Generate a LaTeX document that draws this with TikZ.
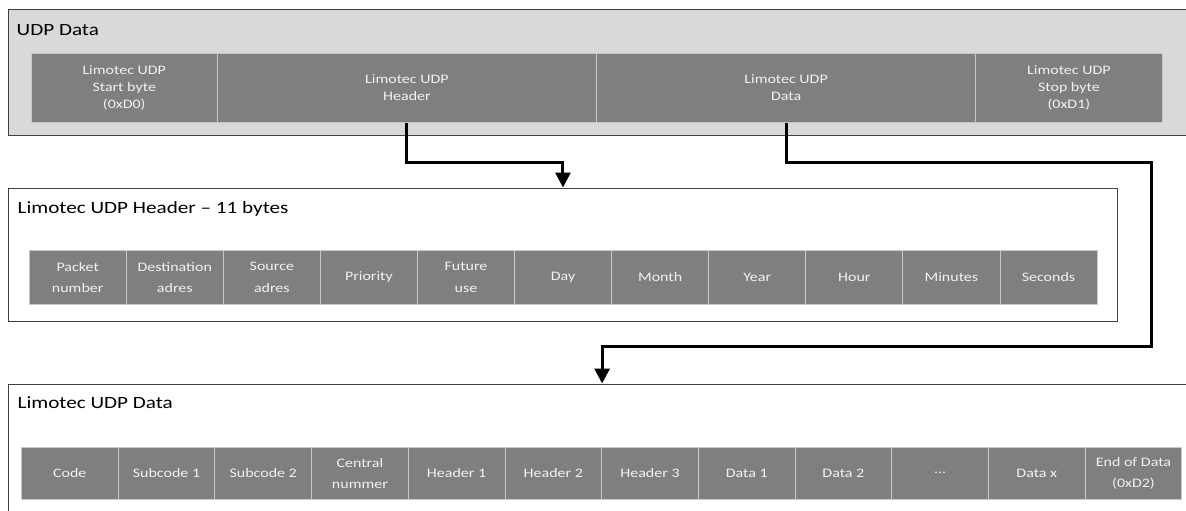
\documentclass[tikz,border=0pt]{standalone}
\usepackage{fontspec}
\setmainfont{Carlito}[FakeStretch=1.23]
\usetikzlibrary{arrows.meta}
\definecolor{cellgray}{HTML}{7F7F7F}
\definecolor{cellline}{HTML}{C8C8C8}
\definecolor{boxgray}{HTML}{D9D9D9}
\definecolor{boxline}{HTML}{404040}
\definecolor{celltext}{HTML}{F2F2F2}
\begin{document}
\begin{tikzpicture}[x=1pt,y=-1pt,
  container/.style={draw=boxline, line width=1.2pt, anchor=north west, inner sep=0pt},
  cell/.style={draw=cellline, line width=0.9pt, fill=cellgray, text=celltext, align=center,
    anchor=north west, inner sep=0pt, font=\fontsize{13}{21.5}\selectfont},
  topcell/.style={cell, font=\fontsize{13}{17}\selectfont},
  title/.style={anchor=base west, inner sep=0pt, font=\fontsize{17.2}{20}\selectfont},
  conn/.style={line width=3pt, line join=miter, -{Triangle[length=15pt,width=15pt]}}
]
\useasboundingbox (0,0) rectangle (1186,511);
\clip (0,0) rectangle (1186,511);

% ---- UDP Data ----
\node[container, fill=boxgray, minimum width=1190pt, minimum height=125.7pt] (tbox) at (7.5,9.3) {};
\node[title] (ttitle) at (16.5,35.5) {UDP Data};
\node[topcell, minimum width=186.4pt, minimum height=69pt] (tc1) at (30.6,53) {Limotec UDP\\Start byte\\(0xD0)};
\node[topcell, minimum width=379pt, minimum height=69pt] (tc2) at (217,53) {Limotec UDP\\Header};
\node[topcell, minimum width=379.3pt, minimum height=69pt] (tc3) at (596,53) {Limotec UDP\\Data};
\node[topcell, minimum width=186.3pt, minimum height=69pt] (tc4) at (975.3,53) {Limotec UDP\\Stop byte\\(0xD1)};

% ---- Header ----
\node[container, fill=white, minimum width=1108.7pt, minimum height=133.2pt] (hbox) at (8,187.5) {};
\node[title] (htitle) at (17.5,213) {Limotec UDP Header – 11 bytes};
\foreach \t [count=\i from 0] in {Packet\\number, Destination\\adres, Source\\adres, Priority, Future\\use, Day, Month, Year, Hour, Minutes, Seconds}{
  \node[cell, minimum width=97.08pt, minimum height=54pt] (hc\i) at ({28.7+97.08*\i},250) {\t};
}

% ---- Data ----
\node[container, fill=white, minimum width=1187pt, minimum height=200pt] (dbox) at (8,383.5) {};
\node[title] (dtitle) at (17.5,408.5) {Limotec UDP Data};
\foreach \t [count=\i from 0] in {Code, Subcode 1, Subcode 2, Central\\nummer, Header 1, Header 2, Header 3, Data 1, Data 2, …, Data x, End of Data\\(0xD2)}{
  \node[cell, minimum width=96.7pt, minimum height=52.3pt] (dc\i) at ({21+96.7*\i},446.7) {\t};
}

% ---- connectors ----
\coordinate (turn) at (1151.5,346.5);
\draw[conn] (tc2.south) -- ++(0,40) -| (hbox.north);
\draw[conn] (tc3.south) -- ++(0,40) -| (turn) -| (dbox.north);
\end{tikzpicture}
\end{document}
